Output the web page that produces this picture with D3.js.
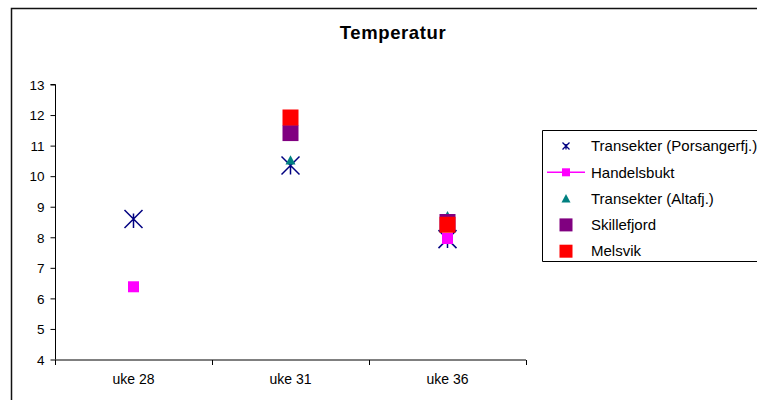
<!DOCTYPE html>
<html>
<head>
<meta charset="utf-8">
<script src="https://cdnjs.cloudflare.com/ajax/libs/d3/7.8.5/d3.min.js"></script>
<style>
  html, body { margin: 0; background: #fff; overflow: hidden; }
  svg { display: block; font-family: "Liberation Sans", Arial, sans-serif; }
</style>
</head>
<body>
<svg id="chart" width="757" height="400"></svg>
<script>
// chart data
var weeks = ['uke 28', 'uke 31', 'uke 36'];
var yTicks = [4, 5, 6, 7, 8, 9, 10, 11, 12, 13];
var porsanger = [8.6, 10.35, 7.94];
var handelsbukt = [6.38, null, 7.96];
var altafj = [null, 10.52, 8.7];
var skillefjord = [null, 11.41, 8.5];
var melsvik = [null, 11.92, 8.41];

var seriesNames = ['Transekter (Porsangerfj.)', 'Handelsbukt', 'Transekter (Altafj.)', 'Skillefjord', 'Melsvik'];
var series = [
    { name: seriesNames[0], values: porsanger, color: '#000080', shape: 'star', size: 9, legendSize: 3.5 },
    { name: seriesNames[1], values: handelsbukt, color: '#ff00ff', shape: 'square', size: 5.5, legendSize: 4, line: true },
    { name: seriesNames[2], values: altafj, color: '#008080', shape: 'triangle', size: 5, legendSize: 4.5 },
    { name: seriesNames[3], values: skillefjord, color: '#800080', shape: 'square', size: 8, legendSize: 6.5 },
    { name: seriesNames[4], values: melsvik, color: '#ff0000', shape: 'square', size: 8, legendSize: 6.5 }
];

var svg = d3.select('#chart');

// outer chart frame: only top and left edges fall inside the picture
svg.append('path').attr('d', 'M11.5,410V8.5H770')
    .style('fill', 'none').style('stroke', '#111').style('stroke-width', 1.5);

svg.append('text').attr('x', 393).attr('y', 39)
    .attr('text-anchor', 'middle')
    .style('font-size', '18.5px').style('font-weight', 'bold')
    .style('letter-spacing', '0.6px')
    .text('Temperatur');

var x = d3.scaleBand().domain(weeks).range([55, 526]).paddingInner(0).paddingOuter(0);
var y = d3.scaleLinear().domain([4, 13]).range([359.5, 84.5]);

// y axis
var yAxis = svg.append('g').attr('transform', 'translate(55.5,0)')
    .call(d3.axisLeft(y).tickValues(yTicks).tickSize(5).tickPadding(6).tickFormat(d3.format('d')));
yAxis.select('.domain').attr('d', 'M-5,' + y(13) + 'H0V' + y(4));
yAxis.selectAll('text').style('font-size', '13.5px').style('fill', '#000').attr('dy', '0.35em');
yAxis.selectAll('line, path').style('stroke', '#000');

// x axis
var xAxis = svg.append('g').attr('transform', 'translate(0,' + (y(4) + 0.5) + ')')
    .call(d3.axisBottom(x).tickSize(0).tickPadding(14));
xAxis.select('.domain').attr('d', 'M55,0H526');
xAxis.selectAll('text').style('font-size', '14px').style('fill', '#000');
xAxis.selectAll('path').style('stroke', '#000');
var bounds = weeks.map(function (w) { return x(w); }).concat([x(weeks[weeks.length - 1]) + x.bandwidth()]);
xAxis.selectAll('.bound').data(bounds).enter().append('line').classed('bound', true)
    .attr('x1', function (d) { return Math.round(d) + 0.5; })
    .attr('x2', function (d) { return Math.round(d) + 0.5; })
    .attr('y1', 0).attr('y2', 5)
    .style('stroke', '#000');

function drawMarker(g, shape, s, color) {
    if (shape === 'square') {
        g.append('rect').attr('x', -s).attr('y', -s).attr('width', 2 * s).attr('height', 2 * s)
            .style('fill', color);
    } else if (shape === 'triangle') {
        g.append('path').attr('d', 'M0,' + (-s) + 'L' + s + ',' + (s * 0.85) + 'L' + (-s) + ',' + (s * 0.85) + 'Z')
            .style('fill', color);
    } else if (shape === 'star') {
        g.append('path')
            .attr('d', 'M' + (-s) + ',' + (-s) + 'L' + s + ',' + s +
                'M' + s + ',' + (-s) + 'L' + (-s) + ',' + s +
                'M0,' + (-s * 0.6) + 'V' + s)
            .style('fill', 'none').style('stroke', color).style('stroke-width', s > 5 ? 1.5 : 1.3);
    }
}

var cx = function (i) { return x(weeks[i]) + x.bandwidth() / 2; };

series.forEach(function (s) {
    var g = svg.append('g');
    s.values.forEach(function (v, i) {
        if (v === null) return;
        var m = g.append('g').attr('transform', 'translate(' + cx(i) + ',' + y(v) + ')');
        drawMarker(m, s.shape, s.size, s.color);
    });
});

// legend (box runs off the right edge)
var legend = svg.append('g');
legend.append('rect').attr('x', 542.5).attr('y', 130.5).attr('width', 230).attr('height', 131)
    .style('fill', '#fff').style('stroke', 'none');
legend.append('path').attr('d', 'M770,130.5H542.5V261.5H770')
    .style('fill', 'none').style('stroke', '#000');
series.forEach(function (s, i) {
    var ly = 146 + i * 26.3;
    var row = legend.append('g');
    if (s.line) {
        row.append('line').attr('x1', 547).attr('x2', 585).attr('y1', ly).attr('y2', ly)
            .style('stroke', s.color).style('stroke-width', 1.5);
    }
    var m = row.append('g').attr('transform', 'translate(566,' + ly + ')');
    drawMarker(m, s.shape, s.legendSize, s.color);
    row.append('text').attr('x', 591).attr('y', ly).attr('dy', '0.35em')
        .style('font-size', '15px').text(s.name);
});
</script>
</body>
</html>
